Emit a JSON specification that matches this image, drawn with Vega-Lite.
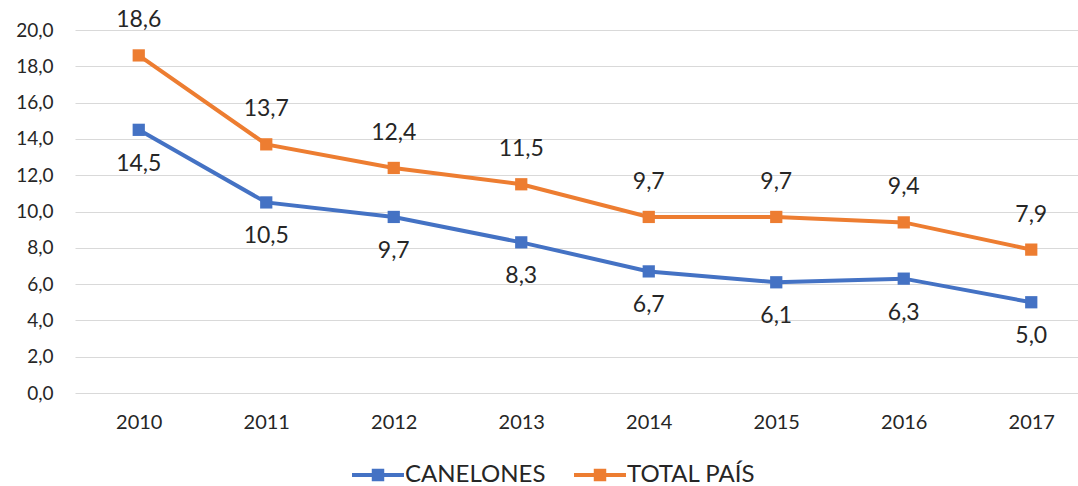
{
  "$schema": "https://vega.github.io/schema/vega-lite/v6.json",
  "autosize": {"type": "none"},
  "width": 1020,
  "height": 363,
  "padding": {"left": 75, "top": 30, "right": 0, "bottom": 93},
  "background": "white",
  "config": {
    "font": "Lato",
    "view": {"stroke": null},
    "locale": {"number": {"decimal": ",", "thousands": ".", "grouping": [3], "currency": ["", " €"]}}
  },
  "data": {
    "values": [
      {"year": "2010", "serie": "CANELONES", "value": 14.5},
      {"year": "2011", "serie": "CANELONES", "value": 10.5},
      {"year": "2012", "serie": "CANELONES", "value": 9.7},
      {"year": "2013", "serie": "CANELONES", "value": 8.3},
      {"year": "2014", "serie": "CANELONES", "value": 6.7},
      {"year": "2015", "serie": "CANELONES", "value": 6.1},
      {"year": "2016", "serie": "CANELONES", "value": 6.3},
      {"year": "2017", "serie": "CANELONES", "value": 5.0},
      {"year": "2010", "serie": "TOTAL PAÍS", "value": 18.6},
      {"year": "2011", "serie": "TOTAL PAÍS", "value": 13.7},
      {"year": "2012", "serie": "TOTAL PAÍS", "value": 12.4},
      {"year": "2013", "serie": "TOTAL PAÍS", "value": 11.5},
      {"year": "2014", "serie": "TOTAL PAÍS", "value": 9.7},
      {"year": "2015", "serie": "TOTAL PAÍS", "value": 9.7},
      {"year": "2016", "serie": "TOTAL PAÍS", "value": 9.4},
      {"year": "2017", "serie": "TOTAL PAÍS", "value": 7.9}
    ]
  },
  "encoding": {
    "x": {
      "field": "year", "type": "ordinal",
      "scale": {"type": "point", "padding": 0.5},
      "axis": {"title": null, "labelAngle": 0, "domain": false, "ticks": false, "labelFontSize": 20, "labelColor": "#262626", "labelPadding": 19, "grid": false}
    },
    "y": {
      "field": "value", "type": "quantitative",
      "scale": {"domain": [0, 20], "nice": false},
      "axis": {"title": null, "values": [0, 2, 4, 6, 8, 10, 12, 14, 16, 18, 20], "format": ".1f", "domain": false, "ticks": false, "labelFontSize": 19, "labelColor": "#262626", "labelPadding": 22, "gridColor": "#d9d9d9", "gridWidth": 1}
    },
    "color": {
      "field": "serie", "type": "nominal",
      "scale": {"domain": ["CANELONES", "TOTAL PAÍS"], "range": ["#4472C4", "#ED7D31"]},
      "legend": {
        "title": null, "orient": "none", "direction": "horizontal",
        "legendX": 277, "legendY": 419,
        "symbolType": "M-1,-0.08H1V0.08H-1Z M-0.24,-0.24H0.24V0.24H-0.24Z",
        "symbolSize": 2700, "symbolStrokeWidth": 0, "symbolOpacity": 1,
        "labelFontSize": 24, "labelColor": "#262626", "labelOffset": 1,
        "columnPadding": 28, "symbolOffset": 0
      }
    }
  },
  "layer": [
    {
      "mark": {"type": "line", "strokeWidth": 4, "point": {"shape": "square", "size": 150, "filled": true, "opacity": 1}}
    },
    {
      "transform": [{"filter": "datum.serie === 'TOTAL PAÍS'"}],
      "mark": {"type": "text", "dy": -35, "fontSize": 23},
      "encoding": {
        "text": {"field": "value", "type": "quantitative", "format": ".1f"},
        "color": {"value": "#262626"}
      }
    },
    {
      "transform": [{"filter": "datum.serie === 'CANELONES'"}],
      "mark": {"type": "text", "dy": 34, "fontSize": 23},
      "encoding": {
        "text": {"field": "value", "type": "quantitative", "format": ".1f"},
        "color": {"value": "#262626"}
      }
    }
  ]
}
